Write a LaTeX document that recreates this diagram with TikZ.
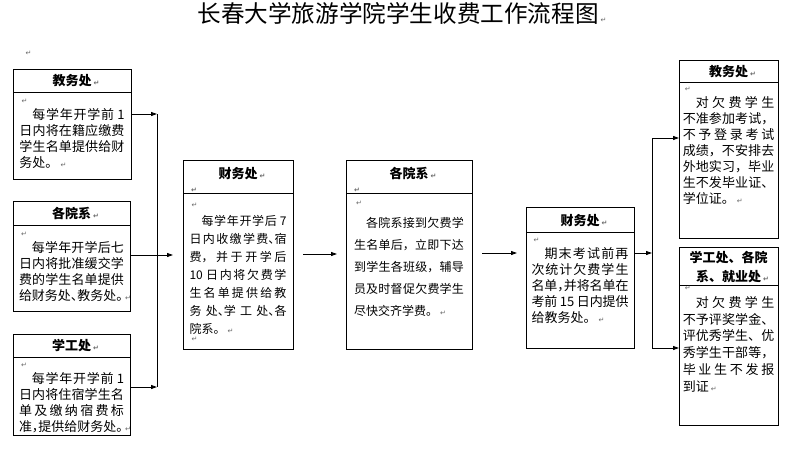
\documentclass[tikz,border=0pt]{standalone}
\usepackage{fontspec}
\setmainfont{Noto Sans CJK SC}
\newfontfamily\symfont{DejaVu Sans}
\usetikzlibrary{arrows.meta, positioning}
\XeTeXlinebreaklocale "zh"
\XeTeXlinebreakskip=0pt plus 4pt minus 0.5pt
\setlength\parindent{0pt}
\hbadness=10000
\newcommand\pmk{\leavevmode\rlap{\hspace{2pt}\fontsize{7}{7}\selectfont\symfont\color{black!60}↵}}
\newcommand\hw[1]{\makebox[.5em][l]{#1}}
\newcommand\ind{\hspace*{1em}}
\newcommand\nogap{\XeTeXlinebreakskip=0pt\relax}
\tikzset{
  head/.style={draw, line width=.9pt, outer sep=0pt, inner ysep=0pt, inner xsep=6pt, align=center, anchor=north,
    font=\bfseries\fontsize{13}{14}\selectfont\nogap},
  body/.style={draw, line width=.9pt, outer sep=0pt, inner ysep=0pt, align=justify, font=\fontsize{13}{16}\selectfont},
  arr/.style={line width=.9pt, -{Triangle[length=6pt,width=4pt]}},
  bus/.style={line width=.9pt}
}

\begin{document}
\begin{tikzpicture}[x=1pt, y=-1pt]
            \useasboundingbox (0,0) rectangle (792,464);
            \node[font=\fontsize{23.6}{28}\selectfont\nogap] (title) at (398,13) {长春大学旅游学院学生收费工作流程图\pmk};
            \node[anchor=base west, inner sep=0pt] (mk) at (23,55) {\pmk};

            % left column
            \node[head, text width=106pt, text height=16.5pt, text depth=6.5pt] (jwT) at (72,69) {教务处\pmk};
            \node[body, below=0pt of jwT, text width=105pt, inner xsep=6.5pt, text height=11pt, text depth=76pt] (jw)
                {\pmk\par\ind 每学年开学前 1\linebreak 日内将在籍应缴费\linebreak 学生名单提供给财\linebreak 务处。\pmk};
            \node[head, text width=105pt, text height=17pt, text depth=7pt] (yxT) at (71.5,201) {各院系\pmk};
            \node[body, below=0pt of yxT, text width=105pt, inner xsep=6pt, text height=11pt, text depth=75pt] (yx)
                {\pmk\par\ind 每学年开学后七\linebreak 日内将批准缓交学\linebreak 费的学生名单提供\linebreak 给财务处\hw{、}教务处\hw{。}\pmk};
            \node[head, text width=105pt, text height=16.5pt, text depth=6.5pt] (xgT) at (71.5,334) {学工处\pmk};
            \node[body, below=0pt of xgT, text width=105pt, inner xsep=6pt, text height=10pt, text depth=68pt] (xg)
                {\pmk\par\ind 每学年开学前 1\linebreak 日内将住宿学生名\linebreak 单及缴纳宿费标\linebreak 准\hw{，}提供给财务处\hw{。}\pmk};

            % middle
            \node[head, text width=98pt, text height=18pt, text depth=15pt] (cwT) at (238,160) {财务处\pmk\\\pmk\hfill\null};
            \node[body, below=0pt of cwT, text width=97pt, inner xsep=6.5pt, text height=14.6pt, text depth=141.4pt, font=\fontsize{12}{18}\selectfont] (cw)
                {\pmk\par\ind 每学年开学后 7\linebreak 日内收缴学费\hw{、}宿\linebreak 费，并于开学后\linebreak 10 日内将欠费学\linebreak 生名单提供给教\linebreak 务处\hw{、}学工处\hw{、}各\linebreak 院系。\pmk\par\vskip-10.6pt\pmk};
            \node[head, text width=114pt, text height=18pt, text depth=15pt] (yx2T) at (409,160) {各院系\pmk\\\pmk\hfill\null};
            \node[body, below=0pt of yx2T, text width=110pt, inner xsep=8pt, text height=12.6pt, text depth=143.4pt, font=\fontsize{12}{22}\selectfont] (yx2)
                {\pmk\par\ind 各院系接到欠费学\linebreak 生名单后，立即下达\linebreak 到学生各班级，辅导\linebreak 员及时督促欠费学生\linebreak 尽快交齐学费。\pmk};
            \node[head, text width=96pt, text height=18pt, text depth=7pt] (cw2T) at (580,207) {财务处\pmk};
            \node[body, below=0pt of cw2T, text width=97pt, inner xsep=5.5pt, text height=10pt, text depth=106pt] (cw2)
                {\pmk\par\ind 期末考试前再\linebreak 次统计欠费学生\linebreak 名单\hw{，}并将名单在\linebreak 考前 15 日内提供\linebreak 给教务处。\pmk};

            % right column
            \node[head, text width=87pt, text height=16pt, text depth=6pt] (jw2T) at (728.5,60) {教务处\pmk};
            \node[body, below=0pt of jw2T, text width=91.5pt, inner xsep=3.75pt, text height=9pt, text depth=147pt] (jw2)
                {\pmk\par\ind 对欠费学生\linebreak 不准参加考试，\linebreak 不予登录考试\linebreak 成绩，不安排去\linebreak 外地实习，毕业\linebreak 生不发毕业证、\linebreak 学位证。\pmk};
            \node[head, text width=87pt, text height=15pt, text depth=23pt] (xg2T) at (728.5,247) {学工处、各院\\[5pt]系、就业处\pmk};
            \node[body, below=0pt of xg2T, text width=91.5pt, inner xsep=3.75pt, text height=5.8pt, text depth=134.2pt, font=\fontsize{13}{16.7}\selectfont] (xg2)
                {\pmk\par\ind 对欠费学生\linebreak 不予评奖学金、\linebreak 评优秀学生、优\linebreak 秀学生干部等，\linebreak 毕业生不发报\linebreak 到证\pmk};

            % arrows
            \coordinate (busL) at (157,0);
            \coordinate (busR) at (652,0);
            \coordinate (a1) at ([yshift=-22pt]jw.north east);
            \coordinate (a3) at ([yshift=-30pt]xg.north east);
            \draw[arr] (a1) -- (a1 -| busL);
            \draw[arr] (a3) -- (a3 -| busL);
            \draw[bus] (a1 -| busL) -- (a3 -| busL);
            \draw[arr, shorten >=10pt] ([yshift=-30pt]yx.north east) coordinate (a2) -- (a2 -| cw.west);
            \draw[arr, shorten <=10pt, shorten >=9pt] ([yshift=-61pt]cw.north east) coordinate (b1) -- (b1 -| yx2.west);
            \draw[arr, shorten <=10pt, shorten >=9pt] ([yshift=-60pt]yx2.north east) coordinate (b2) -- (b2 -| cw2.west);
            \draw[arr] ([yshift=-21pt]cw2.north east) coordinate (c1) -- (c1 -| busR);
            \coordinate (r1) at ([yshift=-56pt]jw2.north west);
            \coordinate (r2) at ([yshift=-63pt]xg2.north west);
            \draw[arr] (r1 -| busR) -- (r1);
            \draw[arr] (r2 -| busR) -- (r2);
            \draw[bus] (r1 -| busR) -- (r2 -| busR);
\end{tikzpicture}
\end{document}
